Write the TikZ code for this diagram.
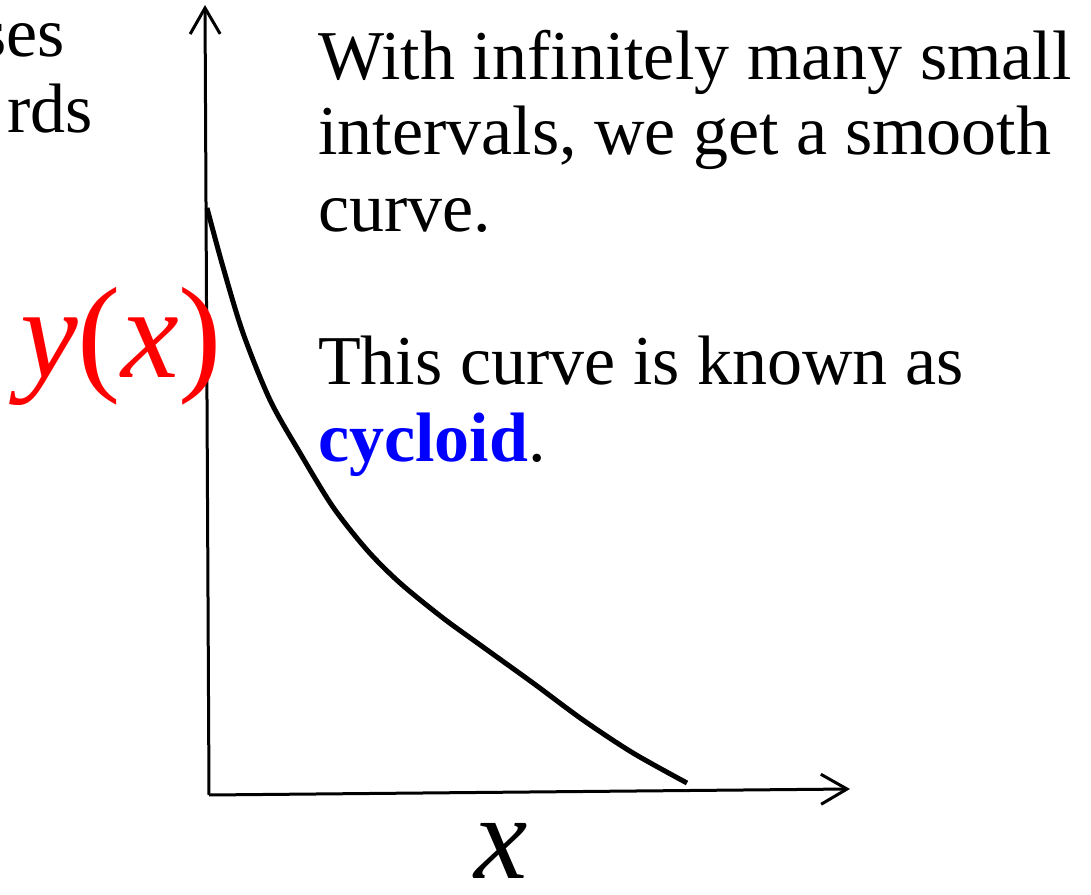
\documentclass[tikz,border=0pt]{standalone}
\usepackage{fontspec}
\setmainfont{Liberation Serif}
\usepackage{xcolor}
\usetikzlibrary{arrows.meta}

\tikzset{
  txt/.style={anchor=base west, inner sep=0pt, font=\fontsize{70}{77}\selectfont},
  axis/.style={line width=3pt, -{Straight Barb[length=26pt,width=30pt,line width=3pt]}},
  curveline/.style={line width=5pt}
}

\begin{document}
\begin{tikzpicture}[x=1pt, y=1pt]
		\useasboundingbox (0,0) rectangle (1091,894);
		% axes
		\coordinate (origin) at (209,99);
		\coordinate (ytop) at (205,889);
		\coordinate (xend) at (850,105);
		\draw[axis] (origin) -- (ytop);
		\draw[axis] (origin) -- (xend);
		% the curve
		\draw[curveline] plot[smooth] coordinates {
			(207,686) (223,627) (243,561) (270,494) (300,441) (333,387)
			(367,344) (400,311) (443,276) (483,247) (533,211) (583,174)
			(633,141) (687,111)};
		% axis labels
		\node[anchor=base west, inner sep=0pt, text=red,
			font=\fontsize{130}{140}\selectfont] (ylab) at (20,516) {\textit{y}(\textit{x})};
		\node[anchor=base, inner sep=0pt,
			font=\fontsize{120}{130}\selectfont] (xlab) at (501,16) {\textit{x}};
		% cut-off text on the left
		\node[txt, anchor=base east] (cut1) at (65,837) {ses};
		\node[txt, anchor=base east] (cut2) at (93,761) {rds};
		% text on the right
		\node[txt] (l1) at (318,814) {With infinitely many small};
		\node[txt] (l2) at (318,739) {intervals, we get a smooth};
		\node[txt] (l3) at (318,662) {curve.};
		\node[txt] (l4) at (318,509) {This curve is known as};
		\node[txt] (l5) at (318,432) {\textcolor{blue}{\textbf{cycloid}}.};
	\end{tikzpicture}
\end{document}
